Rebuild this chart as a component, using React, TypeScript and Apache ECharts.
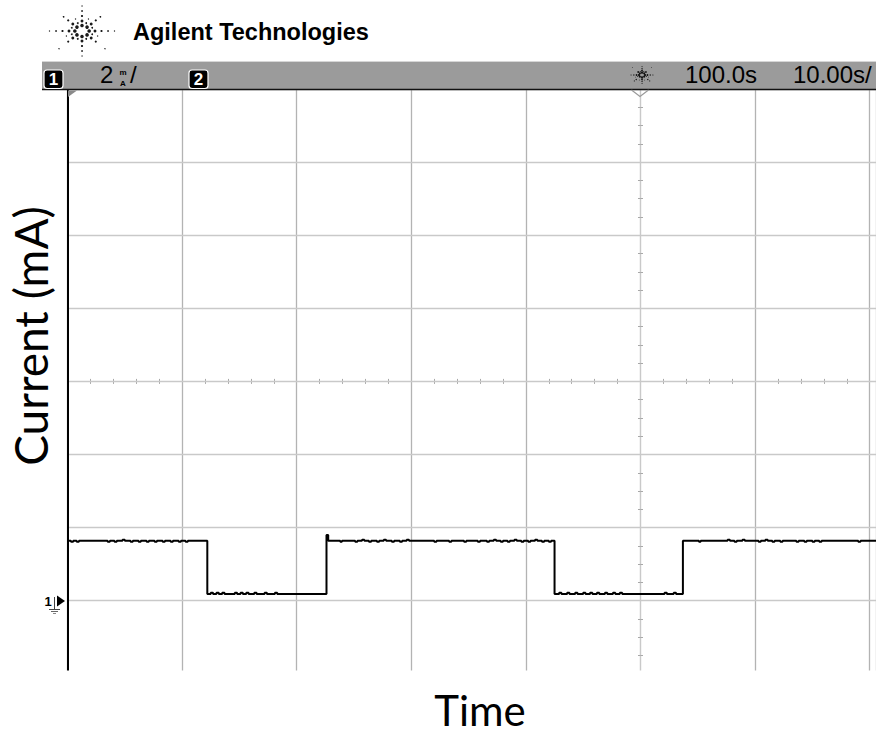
import React, { useEffect, useRef } from "react";
import * as echarts from "echarts";

// ---- Scope settings ----
const timeStart = 50; // s at left edge (delay 100 s at centre, 10 s/div)
const timeEnd = 120.55; // s at right edge of the cropped screen
const timeDiv = 10; // s / div
const currentMin = -2; // mA at bottom
const currentMax = 14; // mA at top
const currentDiv = 2; // mA / div

// ---- Header texts ----
const brandText = "Agilent Technologies";
const channel1Label = "1";
const channel2Label = "2";
const scaleLabel = "2";
const delayLabel = "100.0s";
const timebaseLabel = "10.00s/";
const yTitle = "Current (mA)";
const xTitle = "Time";

// ---- Trace: [time s, current mA] (step held until next point) ----
const traceHigh1: [number, number][] = [
  [50, 1.64], [50.3, 1.61], [50.5, 1.64], [50.8, 1.61], [51.0, 1.64],
  [53.5, 1.61], [53.7, 1.64], [54.1, 1.61], [54.3, 1.64], [54.8, 1.67], [55.0, 1.64],
  [55.5, 1.61], [55.7, 1.64], [56.2, 1.61], [56.4, 1.64], [56.9, 1.61], [57.1, 1.64],
  [57.6, 1.61], [57.8, 1.64], [58.3, 1.61], [58.5, 1.64], [59.0, 1.61], [59.2, 1.64],
  [59.7, 1.61], [59.9, 1.64], [60.3, 1.61], [60.5, 1.64],
];
const traceLow1: [number, number][] = [
  [62.2, 0.18], [62.5, 0.22], [62.7, 0.18], [63.0, 0.22], [63.2, 0.18], [63.5, 0.22],
  [63.7, 0.18], [64.6, 0.22], [64.8, 0.18], [65.1, 0.22], [65.3, 0.18], [65.6, 0.22],
  [65.8, 0.18], [66.3, 0.22], [66.5, 0.18], [67.2, 0.22], [67.4, 0.18], [68.1, 0.22],
  [68.3, 0.18],
];
const traceHigh2: [number, number][] = [
  [72.6, 1.8], [72.75, 1.64], [73.8, 1.61], [73.95, 1.64], [75.1, 1.61], [75.3, 1.64],
  [75.7, 1.67], [75.9, 1.64], [76.3, 1.61], [76.5, 1.64], [77.0, 1.61], [77.2, 1.64],
  [77.6, 1.67], [77.8, 1.64], [78.3, 1.61], [78.5, 1.64], [79.0, 1.61], [79.2, 1.64],
  [79.6, 1.67], [79.8, 1.64], [82.0, 1.61], [82.2, 1.64], [83.3, 1.61], [83.5, 1.64],
  [84.6, 1.61], [84.8, 1.64], [85.8, 1.61], [86.0, 1.64], [86.6, 1.61], [86.8, 1.64],
  [87.2, 1.67], [87.4, 1.64], [87.8, 1.61], [88.0, 1.64], [88.4, 1.61], [88.6, 1.64],
  [89.0, 1.67], [89.2, 1.64], [89.6, 1.61], [89.8, 1.64], [90.2, 1.61], [90.4, 1.64],
  [90.8, 1.67], [91.0, 1.64], [91.4, 1.61], [91.6, 1.64], [92.0, 1.61], [92.2, 1.64],
];
const traceLow2: [number, number][] = [
  [92.5, 0.18], [92.9, 0.22], [93.1, 0.18], [93.6, 0.22], [93.8, 0.18], [94.3, 0.22],
  [94.5, 0.18], [95.0, 0.22], [95.2, 0.18], [95.6, 0.22], [95.8, 0.18], [96.2, 0.22],
  [96.4, 0.18], [96.9, 0.22], [97.1, 0.18], [97.6, 0.22], [97.8, 0.18], [98.2, 0.22],
  [98.4, 0.18], [102.1, 0.22], [102.3, 0.18], [102.9, 0.22], [103.1, 0.18],
];
const traceHigh3: [number, number][] = [
  [103.7, 1.64], [105.1, 1.61], [105.25, 1.64], [107.6, 1.67], [107.8, 1.64],
  [108.2, 1.61], [108.4, 1.64], [108.9, 1.67], [109.1, 1.64], [110.3, 1.61], [110.5, 1.64],
  [110.9, 1.67], [111.1, 1.64], [111.5, 1.61], [111.7, 1.64], [112.2, 1.61], [112.4, 1.64],
  [113.6, 1.61], [113.8, 1.64], [114.3, 1.61], [114.5, 1.64], [115.0, 1.61], [115.2, 1.64],
  [115.6, 1.61], [115.8, 1.64], [119.0, 1.61], [119.2, 1.64], [120.55, 1.64],
];

const GRID_LEFT = 67.5;
const GRID_TOP = 89;
const DIV_H = 73.1;

function sparkle(cx: number, cy: number, s: number, fill: string) {
  const els: any[] = [];
  const sx = 1.3;
  const main = [
    [5.5, 1.8],
    [10, 1.45],
    [15, 1.1],
    [20, 0.85],
    [25, 0.65],
  ];
  const mid = [
    [8.5, 0.9],
    [13, 0.65],
  ];
  for (let k = 0; k < 8; k++) {
    const a = (k * Math.PI) / 4;
    for (const [r, size] of main) {
      els.push({
        type: "circle",
        shape: { cx: cx + Math.cos(a) * r * sx * s, cy: cy + Math.sin(a) * r * s, r: size * Math.max(s, 0.6) },
        style: { fill },
        z: 50,
      });
    }
    const b = a + Math.PI / 8;
    for (const [r, size] of mid) {
      els.push({
        type: "circle",
        shape: { cx: cx + Math.cos(b) * r * sx * s, cy: cy + Math.sin(b) * r * s, r: size * Math.max(s, 0.6) },
        style: { fill },
        z: 50,
      });
    }
  }
  return els;
}

function channelBox(x: number, label: string) {
  return [
    {
      type: "rect",
      shape: { x, y: 70, width: 19, height: 18.5, r: 3 },
      style: { fill: "#000", stroke: "#fff", lineWidth: 1.2 },
      z: 50,
    },
    {
      type: "text",
      x: x + 9.5,
      y: 79.5,
      style: {
        text: label,
        fill: "#fff",
        font: "bold 17px 'Liberation Sans', Arial, sans-serif",
        align: "center",
        verticalAlign: "middle",
      },
      z: 51,
    },
  ];
}

export default function App() {
  const ref = useRef<HTMLDivElement>(null);

  useEffect(() => {
    if (!ref.current) return;
    const chart = echarts.init(ref.current, undefined, { renderer: "svg" });
    const trace = [...traceHigh1, ...traceLow1, ...traceHigh2, ...traceLow2, ...traceHigh3];
    const gridH = DIV_H * ((currentMax - currentMin) / currentDiv);
    const gridW = 876 - GRID_LEFT;
    const barFont = "24px 'Liberation Sans', Arial, sans-serif";

    const hSplitColors = ["transparent"];
    for (let v = currentMin + currentDiv; v <= currentMax; v += currentDiv) hSplitColors.push("#c9c9c9");

    const graphic: any[] = [
      // white cover below the cropped screen
      { type: "rect", shape: { x: 40, y: 670.5, width: 836, height: 8 }, style: { fill: "#fff" }, z: 40 },
      // header logo and brand
      ...sparkle(82, 31, 1, "#1a1a1a"),
      {
        type: "text",
        x: 133,
        y: 32,
        style: {
          text: brandText,
          fill: "#000",
          font: "bold 23.5px 'Liberation Sans', Arial, sans-serif",
          verticalAlign: "middle",
        },
        z: 50,
      },
      // status bar
      { type: "rect", shape: { x: 42, y: 61, width: 834, height: 28 }, style: { fill: "#9b9b9b" }, z: 45 },
      { type: "line", shape: { x1: 42, y1: 61.5, x2: 876, y2: 61.5 }, style: { stroke: "#d6d6d6", lineWidth: 1 }, z: 46 },
      { type: "line", shape: { x1: 42, y1: 89.5, x2: 876, y2: 89.5 }, style: { stroke: "#111", lineWidth: 1.5 }, z: 46 },
      ...channelBox(44, channel1Label),
      ...channelBox(189, channel2Label),
      {
        type: "text",
        x: 100,
        y: 74.5,
        style: { text: scaleLabel, fill: "#000", font: barFont, verticalAlign: "middle" },
        z: 50,
      },
      {
        type: "text",
        x: 123,
        y: 72.5,
        style: { text: "m", fill: "#000", font: "bold 8px 'Liberation Sans', Arial", align: "center", verticalAlign: "middle" },
        z: 50,
      },
      {
        type: "text",
        x: 123,
        y: 83,
        style: { text: "A", fill: "#000", font: "bold 8px 'Liberation Sans', Arial", align: "center", verticalAlign: "middle" },
        z: 50,
      },
      {
        type: "text",
        x: 130,
        y: 74.5,
        style: { text: "/", fill: "#000", font: barFont, verticalAlign: "middle" },
        z: 50,
      },
      ...sparkle(642, 75, 0.42, "#111"),
      {
        type: "text",
        x: 685,
        y: 74.5,
        style: { text: delayLabel, fill: "#000", font: barFont, verticalAlign: "middle" },
        z: 50,
      },
      {
        type: "text",
        x: 793,
        y: 74.5,
        style: { text: timebaseLabel, fill: "#000", font: barFont, verticalAlign: "middle" },
        z: 50,
      },
      // trigger markers
      {
        type: "polygon",
        shape: { points: [[68, 90.5], [77, 90.5], [68, 97]] },
        style: { fill: "#8a8a8a" },
        z: 47,
      },
      {
        type: "polyline",
        shape: { points: [[631.5, 90], [640, 96.5], [648.5, 90]] },
        style: { stroke: "#9a9a9a", lineWidth: 1.2, fill: "none" },
        z: 47,
      },
      // ground marker for channel 1
      {
        type: "text",
        x: 48,
        y: 601,
        style: { text: "1", fill: "#000", font: "bold 13px 'Liberation Sans', Arial", align: "center", verticalAlign: "middle" },
        z: 50,
      },
      {
        type: "polygon",
        shape: { points: [[57, 595.5], [65, 601], [57, 606.5]] },
        style: { fill: "#000" },
        z: 50,
      },
      { type: "line", shape: { x1: 54.5, y1: 597, x2: 54.5, y2: 609 }, style: { stroke: "#444", lineWidth: 1 }, z: 50 },
      { type: "line", shape: { x1: 49, y1: 609.5, x2: 60, y2: 609.5 }, style: { stroke: "#444", lineWidth: 1 }, z: 50 },
      { type: "line", shape: { x1: 51, y1: 611.5, x2: 58, y2: 611.5 }, style: { stroke: "#666", lineWidth: 1 }, z: 50 },
      { type: "line", shape: { x1: 53, y1: 613.5, x2: 56, y2: 613.5 }, style: { stroke: "#888", lineWidth: 1 }, z: 50 },
      // axis titles
      {
        type: "text",
        x: 30,
        y: 336,
        rotation: Math.PI / 2,
        style: {
          text: yTitle,
          fill: "#000",
          font: "46px Lato, 'Open Sans', sans-serif",
          align: "center",
          verticalAlign: "middle",
        },
        z: 50,
      },
      {
        type: "text",
        x: 480,
        y: 710,
        style: {
          text: xTitle,
          fill: "#000",
          font: "42px Lato, 'Open Sans', sans-serif",
          align: "center",
          verticalAlign: "middle",
        },
        z: 50,
      },
    ];

    const centreTickX = (inside: boolean) => ({
      type: "value",
      gridIndex: 0,
      min: timeStart,
      max: timeEnd,
      interval: timeDiv,
      position: "bottom",
      axisLine: { show: true, onZero: true, onZeroAxisIndex: 1, lineStyle: { color: "#c9c9c9", width: 1 } },
      axisTick: { show: false, inside },
      minorTick: { show: true, splitNumber: 5, length: 2.5, lineStyle: { color: "#a8a8a8", width: 1 } },
      axisLabel: { show: false },
      splitLine: { show: false },
    });
    const centreTickY = (inside: boolean) => ({
      type: "value",
      gridIndex: 0,
      min: currentMin,
      max: currentMax,
      interval: currentDiv,
      position: "left",
      axisLine: { show: true, onZero: true, onZeroAxisIndex: 3, lineStyle: { color: "#c9c9c9", width: 1 } },
      axisTick: { show: false, inside },
      minorTick: { show: true, splitNumber: 4, length: 2.5, lineStyle: { color: "#a8a8a8", width: 1 } },
      axisLabel: { show: false },
      splitLine: { show: false },
    });

    chart.setOption({
      animation: false,
      backgroundColor: "#ffffff",
      grid: {
        left: GRID_LEFT,
        top: GRID_TOP,
        width: gridW,
        height: gridH,
        containLabel: false,
        outerBoundsMode: "none",
      },
      xAxis: [
        {
          type: "value",
          gridIndex: 0,
          min: timeStart,
          max: timeEnd,
          interval: timeDiv,
          position: "bottom",
          axisLine: { show: false, onZero: false },
          axisTick: { show: false },
          axisLabel: { show: false },
          splitLine: { show: true, lineStyle: { color: "#b3b3b3", width: 1.3 } },
        },
        centreTickX(false),
        centreTickX(true),
        {
          type: "value",
          gridIndex: 0,
          show: false,
          min: timeStart - 100,
          max: timeEnd - 100,
          axisLine: { onZero: false },
        },
      ],
      yAxis: [
        {
          type: "value",
          gridIndex: 0,
          min: currentMin,
          max: currentMax,
          interval: currentDiv,
          position: "left",
          axisLine: { show: true, onZero: false, lineStyle: { color: "#000", width: 2 } },
          axisTick: { show: false },
          axisLabel: { show: false },
          splitLine: { show: true, lineStyle: { color: hSplitColors, width: 1.3 } },
          z: 5,
        },
        {
          type: "value",
          gridIndex: 0,
          show: false,
          min: -8,
          max: 8,
          axisLine: { onZero: false },
        },
        centreTickY(false),
        centreTickY(true),
      ],
      series: [
        {
          type: "line",
          name: "Channel 1",
          xAxisIndex: 0,
          yAxisIndex: 0,
          step: "end",
          data: trace,
          showSymbol: false,
          symbol: "none",
          lineStyle: { color: "#000", width: 2 },
          z: 10,
        },
      ],
      graphic: { elements: graphic },
    });
    return () => chart.dispose();
  }, []);

  return (
    <div
      ref={ref}
      style={{ position: "fixed", left: 0, top: 0, width: 876, height: 736, background: "#fff" }}
    />
  );
}
